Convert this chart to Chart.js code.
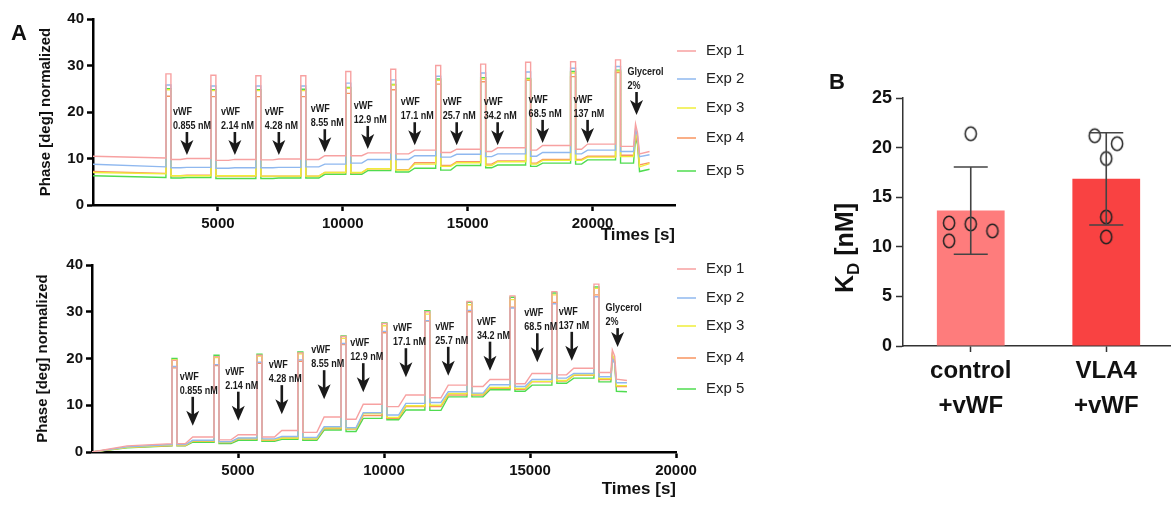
<!DOCTYPE html>
<html>
<head>
<meta charset="utf-8">
<script src="https://cdn.jsdelivr.net/npm/chart.js@4.4.1/dist/chart.umd.min.js"></script>
<style>
  html, body { margin: 0; padding: 0; background: #fff; overflow: hidden; }
  body { width: 1171px; height: 507px; position: relative; }
  canvas { position: absolute; }
</style>
</head>
<body>
<canvas id="topChart" width="760" height="250" style="left:0px;top:0px"></canvas>
<canvas id="bottomChart" width="760" height="257" style="left:0px;top:250px"></canvas>
<canvas id="kdChart" width="381" height="457" style="left:800px;top:50px"></canvas>
<script>
const expNames = ['Exp 1', 'Exp 2', 'Exp 3', 'Exp 4', 'Exp 5'];
const expColors = ['#f7a1a1', '#8fb8ef', '#efee3a', '#f9955f', '#4fdc4f'];
const concLabels = ['0.855 nM', '2.14 nM', '4.28 nM', '8.55 nM', '12.9 nM', '17.1 nM', '25.7 nM', '34.2 nM', '68.5 nM', '137 nM'];
const timeTicks = [5000, 10000, 15000, 20000];

// ---- upper trace (times in s, phase in deg) ----
const topSpikeT    = [2920, 4720, 6520, 8320, 10120, 11920, 13720, 15520, 17320, 19120, 20920];
const topSpikeEndT = [3120, 4920, 6720, 8520, 10320, 12120, 13920, 15720, 17520, 19320, 21120];
const topStepT     = [3500, 5420, 7200, 9040, 10760, 12640, 14320, 15960, 17760, 19560];
const topStepEndT  = [3760, 5680, 7440, 9280, 11000, 12880, 14560, 16200, 18000, 19800];
const topGlyT = [21640, 21720, 21800, 21880];
const topEndT = 22280;
const topStart = [10.5, 8.75, 7.0, 7.2, 6.3];
const topPre = [10.1, 8.2, 6.7, 6.8, 5.9];
const topTops = [
  [28.2, 27.9, 27.8, 27.8, 28.7, 29.2, 30.0, 30.3, 30.7, 30.8, 31.2],
  [25.8, 25.6, 25.6, 25.6, 26.2, 26.9, 27.7, 28.4, 28.6, 29.4, 29.8],
  [24.8, 24.6, 24.6, 24.6, 25.1, 25.8, 26.8, 27.1, 27.0, 28.4, 28.8],
  [23.4, 23.3, 23.3, 23.3, 24.0, 24.8, 26.0, 26.5, 26.8, 27.6, 28.5],
  [25.0, 24.8, 24.8, 24.9, 25.3, 25.9, 27.1, 27.4, 27.2, 28.7, 29.0]
];
const topLows = [
  [9.8, 9.6, 9.7, 9.8, 10.6, 11.0, 11.3, 11.5, 11.8, 12.0, 12.6],
  [8.0, 7.9, 8.0, 8.2, 9.0, 9.8, 10.3, 10.4, 10.5, 11.0, 11.5],
  [6.3, 6.3, 6.2, 6.2, 7.0, 7.5, 8.3, 8.5, 8.8, 9.6, 10.4],
  [6.3, 6.2, 6.2, 6.2, 6.9, 7.6, 8.5, 8.8, 9.0, 9.8, 10.7],
  [5.8, 5.7, 5.7, 5.8, 6.6, 7.1, 7.5, 8.0, 8.3, 8.8, 9.0]
];
const topHighs = [
  [10.0, 9.8, 9.9, 10.6, 11.2, 11.8, 12.0, 12.3, 12.8, 13.1],
  [8.1, 8.0, 8.1, 8.8, 9.8, 10.6, 10.9, 11.0, 11.3, 11.8],
  [6.3, 6.3, 6.2, 7.0, 7.8, 8.8, 9.1, 9.3, 9.6, 10.3],
  [6.4, 6.2, 6.2, 7.0, 7.8, 9.1, 9.3, 9.5, 9.8, 10.5],
  [5.9, 5.7, 5.8, 6.6, 7.4, 7.9, 8.5, 8.6, 9.0, 9.7]
];
// glycerol: peak, hold, drop, end
const topGly = [
  [17.4, 15.5, 11.0, 11.5],
  [16.3, 14.8, 10.4, 10.8],
  [15.6, 14.0, 8.2, 8.9],
  [15.0, 13.5, 8.6, 9.1],
  [14.5, 13.0, 7.2, 7.7]
];
const topArrowT   = [3760, 5680, 7440, 9280, 11000, 12880, 14560, 16200, 18000, 19800, 21760];
const topArrowTop = [15.7, 15.7, 15.7, 16.3, 17.0, 17.8, 17.8, 17.8, 18.3, 18.3, 24.3];

// ---- lower trace ----
const botSpikeT    = [2740, 4180, 5650, 7050, 8530, 9930, 11400, 12840, 14315, 15750, 17190];
const botSpikeEndT = [2910, 4350, 5820, 7220, 8700, 10100, 11570, 13010, 14485, 15920, 17360];
const botStepT     = [3200, 4760, 6250, 7700, 9040, 10500, 11950, 13390, 14830, 16250];
const botStepEndT  = [3450, 5010, 6500, 7950, 9290, 10750, 12200, 13630, 15070, 16500];
const botGlyT = [17770, 17820, 17900, 17960];
const botEndT = 18320;
const botEarlyT = 1200;
const botStart = [0, 0, 0, 0, 0];
const botEarly = [1.3, 1.1, 1.0, 1.0, 0.9];
const botPre = [1.8, 1.6, 1.5, 1.4, 1.3];
const botTops = [
  [19.6, 20.4, 20.7, 21.2, 24.7, 27.5, 30.0, 32.2, 33.4, 34.3, 35.9],
  [18.3, 18.7, 19.2, 19.7, 23.2, 25.8, 28.1, 30.3, 30.8, 31.7, 33.2],
  [19.7, 20.2, 20.5, 21.0, 24.3, 27.0, 29.5, 31.5, 32.6, 33.6, 35.0],
  [18.0, 18.5, 19.0, 19.4, 23.0, 25.5, 28.0, 30.0, 31.0, 32.0, 33.6],
  [20.0, 20.7, 20.9, 21.4, 24.8, 27.6, 30.2, 32.0, 33.1, 34.0, 35.3]
];
const botLows = [
  [1.8, 2.6, 3.2, 4.2, 7.0, 9.7, 11.6, 14.0, 14.6, 16.5, 17.0],
  [1.6, 2.2, 2.8, 3.1, 5.2, 7.9, 10.6, 12.6, 14.0, 15.8, 16.1],
  [1.5, 2.1, 2.6, 2.9, 5.0, 7.4, 10.0, 12.4, 13.6, 15.3, 15.7],
  [1.4, 2.0, 2.5, 2.8, 4.9, 7.2, 9.7, 12.2, 13.4, 15.2, 15.5],
  [1.3, 1.8, 2.3, 2.5, 4.4, 6.9, 8.9, 11.8, 13.0, 14.7, 15.0]
];
const botHighs = [
  [3.2, 3.7, 4.6, 7.5, 10.2, 12.2, 14.3, 15.5, 16.8, 17.9],
  [2.5, 3.0, 3.3, 5.4, 8.4, 10.4, 12.9, 14.4, 15.5, 16.8],
  [2.4, 2.9, 3.0, 5.2, 8.2, 9.9, 12.5, 13.8, 15.1, 16.5],
  [2.3, 2.8, 3.0, 5.0, 7.8, 9.7, 12.2, 13.6, 15.0, 16.4],
  [2.1, 2.5, 2.7, 4.7, 7.2, 9.0, 11.8, 13.3, 14.3, 15.8]
];
const botGly = [
  [21.8, 20.5, 15.6, 15.3],
  [20.0, 19.0, 14.8, 14.8],
  [20.8, 19.5, 14.2, 14.2],
  [20.2, 19.0, 14.0, 14.0],
  [20.6, 19.2, 13.0, 12.9]
];
const botArrowT   = [3450, 5010, 6500, 7950, 9290, 10750, 12200, 13630, 15250, 16430, 18000];
const botArrowTop = [11.8, 12.9, 14.3, 17.5, 19.0, 22.2, 22.5, 23.6, 25.4, 25.7, 26.5];

// ---- panel B ----
const kdGroups = [['control', '+vWF'], ['VLA4', '+vWF']];
const kdMeans = [13.65, 16.85];
const kdSD = [4.4, 4.65];
const kdColors = ['#fe7c7c', '#f94242'];
const ctrlPoints = [21.4, 12.4, 12.3, 11.6, 10.6];
const vlaPoints = [21.2, 20.4, 18.9, 13.0, 11.0];
const ctrlJitter = [0, -0.16, 0, 0.16, -0.16];
const vlaJitter = [-0.085, 0.08, 0, 0, 0];

const FONT = '"Liberation Sans", Arial, sans-serif';
Chart.defaults.font.family = FONT;

function buildTrace(p, i) {
  const pts = [{x: 0, y: p.start[i]}];
  if (p.early) pts.push({x: p.earlyT, y: p.early[i]});
  let level = p.pre[i];
  p.spikeT.forEach((t, k) => {
    pts.push({x: t, y: level}, {x: t, y: p.tops[i][k]},
             {x: p.spikeEndT[k], y: p.tops[i][k]}, {x: p.spikeEndT[k], y: p.lows[i][k]});
    level = p.lows[i][k];
    if (k < p.stepT.length) {
      pts.push({x: p.stepT[k], y: level}, {x: p.stepEndT[k], y: p.highs[i][k]});
      level = p.highs[i][k];
    }
  });
  const g = p.gly[i];
  pts.push({x: p.glyT[0], y: level}, {x: p.glyT[1], y: g[0]}, {x: p.glyT[2], y: g[1]},
           {x: p.glyT[3], y: g[2]}, {x: p.endT, y: g[3]});
  return pts;
}

function narrowText(ctx, text, x, y) {
  ctx.save();
  ctx.translate(x, y);
  ctx.scale(0.82, 1);
  ctx.font = 'bold 11px ' + FONT;
  ctx.textBaseline = 'middle';
  ctx.textAlign = 'left';
  ctx.fillText(text, 0, 0);
  ctx.restore();
}

function drawArrow(ctx, x, top, len) {
  const tip = top + len;
  ctx.fillRect(x - 1.3, top, 2.6, len - 10);
  ctx.beginPath();
  ctx.moveTo(x, tip);
  ctx.lineTo(x - 6.5, tip - 15);
  ctx.lineTo(x, tip - 11);
  ctx.lineTo(x + 6.5, tip - 15);
  ctx.closePath();
  ctx.fill();
}

function extrasPlugin(o) {
  return {
    id: 'extras',
    afterDatasetsDraw(chart) {
      const {ctx, scales: {x, y}} = chart;
      ctx.save();
      ctx.fillStyle = '#1a1a1a';
      o.arrowT.forEach((t, i) => {
        const px = x.getPixelForValue(t);
        const py = y.getPixelForValue(o.arrowTop[i]);
        const gly = i >= concLabels.length;
        const lines = gly ? ['Glycerol', '2%'] : ['vWF', concLabels[i]];
        const tx = px + (gly ? o.glyDx : o.textDx);
        narrowText(ctx, lines[0], tx, py - 20);
        narrowText(ctx, lines[1], tx, py - 6);
        drawArrow(ctx, px, py, gly ? o.glyLen : o.arrowLen);
      });
      expNames.forEach((name, i) => {
        const ly = o.legendY + o.legendGap[i];
        ctx.strokeStyle = expColors[i];
        ctx.lineWidth = 1.5;
        ctx.beginPath();
        ctx.moveTo(677, ly);
        ctx.lineTo(696, ly);
        ctx.stroke();
        ctx.fillStyle = '#222';
        ctx.font = '15px ' + FONT;
        ctx.textBaseline = 'middle';
        ctx.textAlign = 'left';
        ctx.fillText(name, 706, ly);
      });
      if (o.letter) {
        ctx.fillStyle = '#111';
        ctx.font = 'bold 22px ' + FONT;
        ctx.textBaseline = 'alphabetic';
        ctx.fillText(o.letter, 11, 40);
      }
      ctx.restore();
    }
  };
}

function lineOptions(c) {
  const axisGrid = {drawOnChartArea: false, drawTicks: true, tickLength: 6, tickWidth: 2.5, color: '#000', tickColor: '#000'};
  return {
    responsive: false,
    animation: false,
    events: [],
    layout: {padding: {left: 0, top: c.padTop, right: c.padRight, bottom: c.padBottom}},
    plugins: {legend: {display: false}, tooltip: {enabled: false}},
    elements: {point: {radius: 0}, line: {borderWidth: 1.4, tension: 0}},
    scales: {
      x: {
        type: 'linear', min: 0, max: c.xMax,
        afterFit: s => { s.height = c.xHeight; },
        afterBuildTicks: s => { s.ticks = timeTicks.map(v => ({value: v})); },
        ticks: {autoSkip: false, maxRotation: 0, padding: 4,
                color: '#111', font: {size: 15, weight: 'bold'}, callback: v => String(v)},
        grid: axisGrid,
        border: {display: true, color: '#000', width: 2.5},
        title: {display: true, text: 'Times [s]', align: 'end', color: '#111',
                font: {size: 17, weight: 'bold'}, padding: {top: 0, bottom: c.xTitlePad}}
      },
      y: {
        min: 0, max: 40,
        afterFit: s => { s.width = c.yWidth; },
        ticks: {stepSize: 10, padding: 3, color: '#111', font: {size: 15, weight: 'bold'}},
        grid: axisGrid,
        border: {display: true, color: '#000', width: 2.5},
        title: {display: true, text: 'Phase [deg] normalized', color: '#111',
                font: {size: 15, weight: 'bold'}, padding: {top: c.yTitlePad, bottom: 0}}
      }
    }
  };
}

function traceDatasets(p) {
  return expNames.map((name, i) => ({
    label: name,
    data: buildTrace(p, i),
    borderColor: expColors[i],
    backgroundColor: expColors[i],
    fill: false
  }));
}

const topPanel = {spikeT: topSpikeT, spikeEndT: topSpikeEndT, stepT: topStepT, stepEndT: topStepEndT,
  glyT: topGlyT, endT: topEndT, start: topStart, pre: topPre, tops: topTops, lows: topLows,
  highs: topHighs, gly: topGly};
const botPanel = {spikeT: botSpikeT, spikeEndT: botSpikeEndT, stepT: botStepT, stepEndT: botStepEndT,
  glyT: botGlyT, endT: botEndT, earlyT: botEarlyT, early: botEarly, start: botStart, pre: botPre,
  tops: botTops, lows: botLows, highs: botHighs, gly: botGly};

new Chart(document.getElementById('topChart'), {
  type: 'line',
  data: {datasets: traceDatasets(topPanel)},
  options: lineOptions({padTop: 19, padRight: 85, padBottom: 0, xMax: 23300, xHeight: 45,
                        xTitlePad: 4, yWidth: 93, yTitlePad: 37}),
  plugins: [extrasPlugin({arrowT: topArrowT, arrowTop: topArrowTop, arrowLen: 23, glyLen: 23,
                          textDx: -14, glyDx: -9, legendY: 51, legendGap: [0, 28, 57, 87, 120], letter: 'A'})]
});

new Chart(document.getElementById('bottomChart'), {
  type: 'line',
  data: {datasets: traceDatasets(botPanel)},
  options: lineOptions({padTop: 15, padRight: 84, padBottom: 5, xMax: 20000, xHeight: 50,
                        xTitlePad: 2, yWidth: 92, yTitlePad: 34}),
  plugins: [extrasPlugin({arrowT: botArrowT, arrowTop: botArrowTop, arrowLen: 29, glyLen: 19,
                          textDx: -13, glyDx: -12, legendY: 19, legendGap: [0, 29, 57, 89, 120]})]
});

// ---- panel B ----
function ellipseMarker() {
  const c = document.createElement('canvas');
  c.width = 16; c.height = 18;
  const g = c.getContext('2d');
  g.strokeStyle = '#222';
  g.lineWidth = 1.5;
  g.beginPath();
  g.ellipse(8, 9, 5.6, 6.8, 0, 0, Math.PI * 2);
  g.stroke();
  return c;
}
const marker = ellipseMarker();

const kdPlugin = {
  id: 'kdExtras',
  afterDatasetsDraw(chart) {
    const {ctx, scales: {x, y}} = chart;
    ctx.save();
    ctx.strokeStyle = '#444';
    ctx.lineWidth = 1.6;
    kdMeans.forEach((m, i) => {
      const hi = y.getPixelForValue(m + kdSD[i]);
      const lo = y.getPixelForValue(m - kdSD[i]);
      const bx = x.getPixelForValue(i);
      ctx.beginPath();
      ctx.moveTo(bx, hi); ctx.lineTo(bx, lo);
      ctx.moveTo(bx - 17, hi); ctx.lineTo(bx + 17, hi);
      ctx.moveTo(bx - 17, lo); ctx.lineTo(bx + 17, lo);
      ctx.stroke();
    });
    // y title with subscript
    ctx.fillStyle = '#111';
    ctx.translate(43, 198);
    ctx.rotate(-Math.PI / 2);
    ctx.textBaseline = 'alphabetic';
    const big = 'bold 25px ' + FONT, small = 'bold 17px ' + FONT;
    ctx.font = big;
    const wK = ctx.measureText('K').width, wRest = ctx.measureText(' [nM]').width;
    ctx.font = small;
    const wD = ctx.measureText('D').width;
    let x0 = -(wK + wD + wRest) / 2;
    ctx.font = big; ctx.fillText('K', x0, 10); x0 += wK;
    ctx.font = small; ctx.fillText('D', x0, 16); x0 += wD;
    ctx.font = big; ctx.fillText(' [nM]', x0, 10);
    ctx.restore();
    ctx.save();
    ctx.fillStyle = '#111';
    ctx.font = 'bold 22px ' + FONT;
    ctx.fillText('B', 29, 39);
    ctx.restore();
  }
};

new Chart(document.getElementById('kdChart'), {
  type: 'scatter',
  data: {
    datasets: [
      {type: 'bar', data: kdMeans.map((v, i) => ({x: i, y: v})), backgroundColor: kdColors,
       barPercentage: 0.5, categoryPercentage: 1, order: 2},
      {type: 'scatter', data: ctrlPoints.map((v, i) => ({x: 0 + ctrlJitter[i], y: v})),
       pointStyle: marker, pointRadius: 6, order: 0},
      {type: 'scatter', data: vlaPoints.map((v, i) => ({x: 1 + vlaJitter[i], y: v})),
       pointStyle: marker, pointRadius: 6, order: 0}
    ]
  },
  options: {
    responsive: false,
    animation: false,
    events: [],
    layout: {padding: {left: 0, top: 48, right: 0, bottom: 0}},
    plugins: {legend: {display: false}, tooltip: {enabled: false}},
    scales: {
      x: {
        type: 'linear', min: -0.5, max: 1.5, offset: false,
        afterFit: s => { s.height = 161; },
        afterBuildTicks: s => { s.ticks = kdGroups.map((g, i) => ({value: i})); },
        ticks: {autoSkip: false, maxRotation: 0, padding: 2, color: '#111',
                font: {size: 24, weight: 'bold', lineHeight: 1.45}, callback: v => kdGroups[v]},
        grid: {drawOnChartArea: false, offset: false, tickLength: 6, tickWidth: 1.5, color: '#333', tickColor: '#333'},
        border: {display: true, color: '#333', width: 1.5}
      },
      y: {
        min: 0, max: 25,
        afterFit: s => { s.width = 103; },
        ticks: {stepSize: 5, padding: 4, color: '#111', font: {size: 18, weight: 'bold'}},
        grid: {drawOnChartArea: false, tickLength: 7, tickWidth: 1.5, color: '#333', tickColor: '#333'},
        border: {display: true, color: '#333', width: 1.5}
      }
    }
  },
  plugins: [kdPlugin]
});
</script>
</body>
</html>
